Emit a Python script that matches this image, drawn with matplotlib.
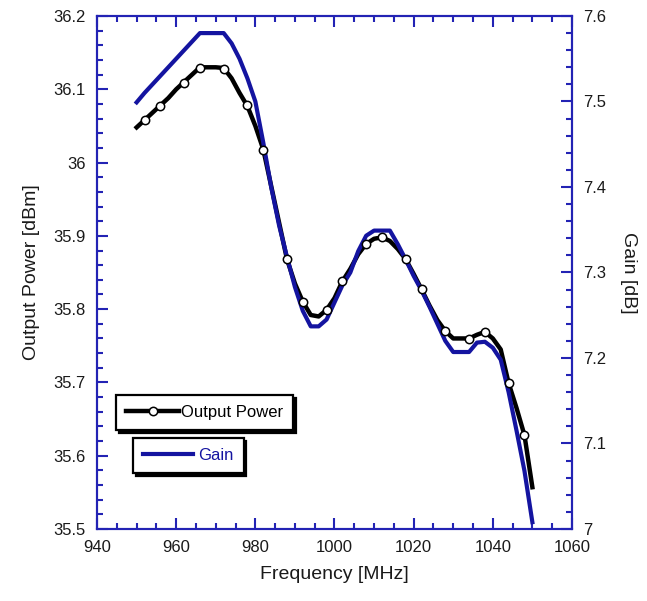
import numpy as np
import matplotlib
matplotlib.use('Agg')
import matplotlib.pyplot as plt
from matplotlib.lines import Line2D
from matplotlib.ticker import MultipleLocator, FuncFormatter

plt.rcParams['font.family'] = ['Liberation Sans', 'DejaVu Sans']

# frequency grid of the traces [MHz]
freq = [950, 952, 954, 956, 958, 960, 962, 964, 966, 968, 970, 972, 974, 976,
        978, 980, 982, 984, 986, 988, 990, 992, 994, 996, 998, 1000, 1002,
        1004, 1006, 1008, 1010, 1012, 1014, 1016, 1018, 1020, 1022, 1024,
        1026, 1028, 1030, 1032, 1034, 1036, 1038, 1040, 1042, 1044, 1046,
        1048, 1050]

# output power [dBm]
p_out = [36.048, 36.058, 36.068, 36.078, 36.088, 36.100, 36.110, 36.120,
         36.130, 36.130, 36.130, 36.129, 36.115, 36.095, 36.077, 36.050,
         36.018, 35.968, 35.918, 35.868, 35.835, 35.810, 35.792, 35.790,
         35.799, 35.815, 35.838, 35.855, 35.875, 35.889, 35.896, 35.898,
         35.893, 35.882, 35.868, 35.848, 35.827, 35.805, 35.785, 35.770,
         35.760, 35.760, 35.760, 35.765, 35.769, 35.760, 35.745, 35.699,
         35.665, 35.628, 35.557]

# gain [dB]
gain = [7.499, 7.510, 7.520, 7.530, 7.540, 7.550, 7.560, 7.570, 7.580,
        7.580, 7.580, 7.580, 7.568, 7.550, 7.527, 7.500, 7.452, 7.400,
        7.355, 7.318, 7.283, 7.255, 7.237, 7.237, 7.245, 7.265, 7.285,
        7.300, 7.325, 7.343, 7.349, 7.349, 7.349, 7.333, 7.315, 7.296,
        7.279, 7.260, 7.240, 7.220, 7.207, 7.207, 7.207, 7.218, 7.219,
        7.212, 7.198, 7.160, 7.115, 7.068, 7.008]

# marker positions on the output power trace
mark_f = [952, 956, 962, 966, 972, 978, 982, 988, 992, 998, 1002, 1008,
          1012, 1018, 1022, 1028, 1034, 1038, 1044, 1048]
mark_p = [36.058, 36.077, 36.108, 36.129, 36.128, 36.078, 36.017, 35.868,
          35.810, 35.799, 35.838, 35.889, 35.898, 35.868, 35.827, 35.770,
          35.759, 35.769, 35.699, 35.628]

axis_blue = '#2323b4'
gain_blue = '#1414a0'
txt = '#1a1a1a'

fig = plt.figure(figsize=(6.47, 6.01), dpi=100)
ax1 = fig.add_axes([0.15, 0.1198, 0.734, 0.8536])
ax2 = ax1.twinx()

ax1.plot(freq, p_out, color='black', lw=3.2, solid_joinstyle='round')
ax2.plot(freq, gain, color=gain_blue, lw=3.0, solid_joinstyle='round')
# markers on top of both traces
ax2.plot(mark_f, mark_p, 'o', transform=ax1.transData, ms=6,
         mfc='white', mec='black', mew=1.1, zorder=5)

ax1.set_xlim(940, 1060)
ax1.set_ylim(35.5, 36.2)
ax2.set_ylim(7.0, 7.6)

fmt = FuncFormatter(lambda v, pos: '%g' % round(v, 3))
ax1.xaxis.set_major_locator(MultipleLocator(20))
ax1.xaxis.set_minor_locator(MultipleLocator(5))
ax1.yaxis.set_major_locator(MultipleLocator(0.1))
ax1.yaxis.set_minor_locator(MultipleLocator(0.02))
ax2.yaxis.set_major_locator(MultipleLocator(0.1))
ax2.yaxis.set_minor_locator(MultipleLocator(0.02))
ax1.yaxis.set_major_formatter(fmt)
ax2.yaxis.set_major_formatter(fmt)

for ax in (ax1, ax2):
    for s in ax.spines.values():
        s.set_color(axis_blue)
        s.set_linewidth(1.5)
ax1.tick_params(which='both', direction='in', color=axis_blue, width=1.5,
                labelsize=12, labelcolor=txt, top=True, pad=8)
ax1.tick_params(which='major', length=8)
ax1.tick_params(which='minor', length=4)
ax2.tick_params(which='both', direction='in', color=axis_blue, width=1.5,
                labelsize=12, labelcolor=txt, pad=8)
ax2.tick_params(which='major', length=8)
ax2.tick_params(which='minor', length=4)

ax1.set_xlabel('Frequency [MHz]', fontsize=14, color=txt, labelpad=8)
ax1.set_ylabel('Output Power [dBm]', fontsize=14, color=txt, labelpad=10)
ax2.set_ylabel('Gain [dB]', fontsize=14, color=txt, rotation=270,
               labelpad=22)

# two separate legend boxes with drop shadows
h1 = Line2D([], [], color='black', lw=3.2, marker='o', ms=6,
            mfc='white', mec='black', mew=1.1)
h2 = Line2D([], [], color=gain_blue, lw=3.0)
shadow = {'color': 'black', 'alpha': 1.0}
leg1 = ax2.legend(handles=[h1], labels=['Output Power'], loc='upper left',
                  bbox_to_anchor=(0.04, 0.261), borderaxespad=0,
                  fancybox=False, edgecolor='black', shadow=shadow,
                  fontsize=12, handlelength=3.2, handletextpad=0.1,
                  borderpad=0.6, numpoints=1, framealpha=1)
leg1.get_frame().set_linewidth(1.6)
ax2.add_artist(leg1)
leg2 = ax2.legend(handles=[h2], labels=['Gain'], loc='upper left',
                  bbox_to_anchor=(0.076, 0.177), borderaxespad=0,
                  fancybox=False, edgecolor='black', shadow=shadow,
                  fontsize=12, handlelength=3.0, handletextpad=0.3,
                  borderpad=0.6, labelcolor=gain_blue, framealpha=1)
leg2.get_frame().set_linewidth(1.6)

fig.savefig('out.png', dpi=100)
